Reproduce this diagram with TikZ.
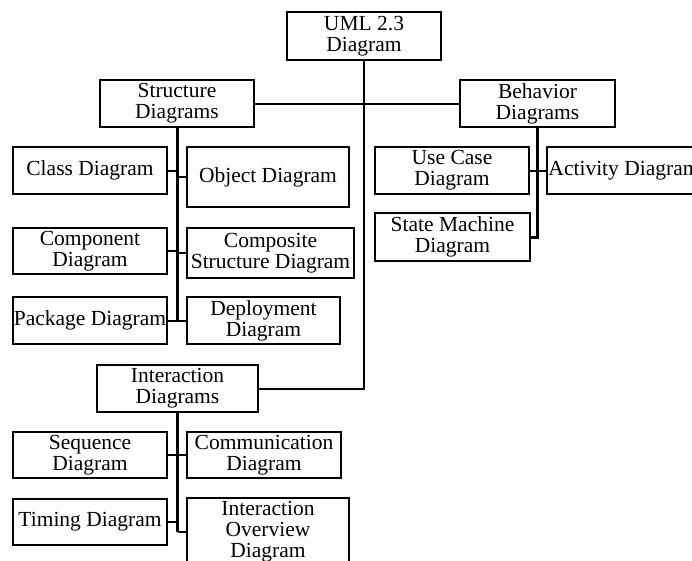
\documentclass[tikz,border=0pt]{standalone}
\usepackage{fontspec}
\setmainfont{Liberation Serif}
\begin{document}
\begin{tikzpicture}[x=1pt,y=-1pt,
  box/.style={draw=black, line width=2pt, fill=white, inner sep=0pt, align=center,
    font=\fontsize{21.5}{21}\selectfont},
  link/.style={draw=black, line width=2pt},
  trunk/.style={draw=black, line width=3pt},
]
\useasboundingbox (0,0) rectangle (692,560);
\clip (0,0) rectangle (692,560);

% top level
\node[box, minimum width=154, minimum height=48] (uml) at (364,36) {UML 2.3\\Diagram};

% second level
\node[box, minimum width=154, minimum height=47] (str) at (177,103.5) {Structure\\Diagrams};
\node[box, minimum width=155, minimum height=47] (beh) at (537.5,103.5) {Behavior\\Diagrams};
\node[box, minimum width=161, minimum height=47] (int) at (177.5,388.5) {Interaction\\Diagrams};

% structure diagrams
\node[box, minimum width=154, minimum height=47] (cls) at (90,170.5) {Class Diagram};
\node[box, minimum width=162, minimum height=60] (obj) at (268,177) {Object Diagram};
\node[box, minimum width=154, minimum height=46] (cmp) at (90,251) {Component\\Diagram};
\node[box, minimum width=167, minimum height=50] (csd) at (270.5,253) {Composite\\Structure Diagram};
\node[box, minimum width=154, minimum height=47] (pkg) at (90,320.5) {Package Diagram};
\node[box, minimum width=153, minimum height=47] (dep) at (263.5,320.5) {Deployment\\Diagram};

% behavior diagrams
\node[box, minimum width=154, minimum height=47] (uc) at (452,170.5) {Use Case\\Diagram};
\node[box, minimum width=154, minimum height=47] (act) at (624,170.5) {Activity Diagram};
\node[box, minimum width=155, minimum height=48] (sm) at (452.5,237) {State Machine\\Diagram};

% interaction diagrams
\node[box, minimum width=154, minimum height=46] (seq) at (90,455) {Sequence\\Diagram};
\node[box, minimum width=154, minimum height=46] (com) at (264,455) {Communication\\Diagram};
\node[box, minimum width=154, minimum height=46] (tim) at (90,522) {Timing Diagram};
\node[box, minimum width=162, minimum height=68] (ovw) at (268,532) {Interaction\\Overview\\Diagram};

% top-level links
\draw[link] (str.east) -- (beh.west);
\draw[link] (uml.south) |- (int.east);

% structure branch
\draw[trunk] (str.south) -- (str.south |- pkg.east);
\foreach \n in {cls,cmp,pkg} \draw[link] (\n.east) -- (\n.east -| str.south);
\foreach \n in {obj,csd,dep} \draw[link] (\n.west) -- (\n.west -| str.south);

% behavior branch
\draw[trunk] (beh.south) |- (sm.east);
\draw[link] (uc.east) -- (act.west);

% interaction branch
\draw[trunk] (int.south) -- (int.south |- ovw.west);
\foreach \n in {seq,tim} \draw[link] (\n.east) -- (\n.east -| int.south);
\foreach \n in {com,ovw} \draw[link] (\n.west) -- (\n.west -| int.south);
\end{tikzpicture}
\end{document}
